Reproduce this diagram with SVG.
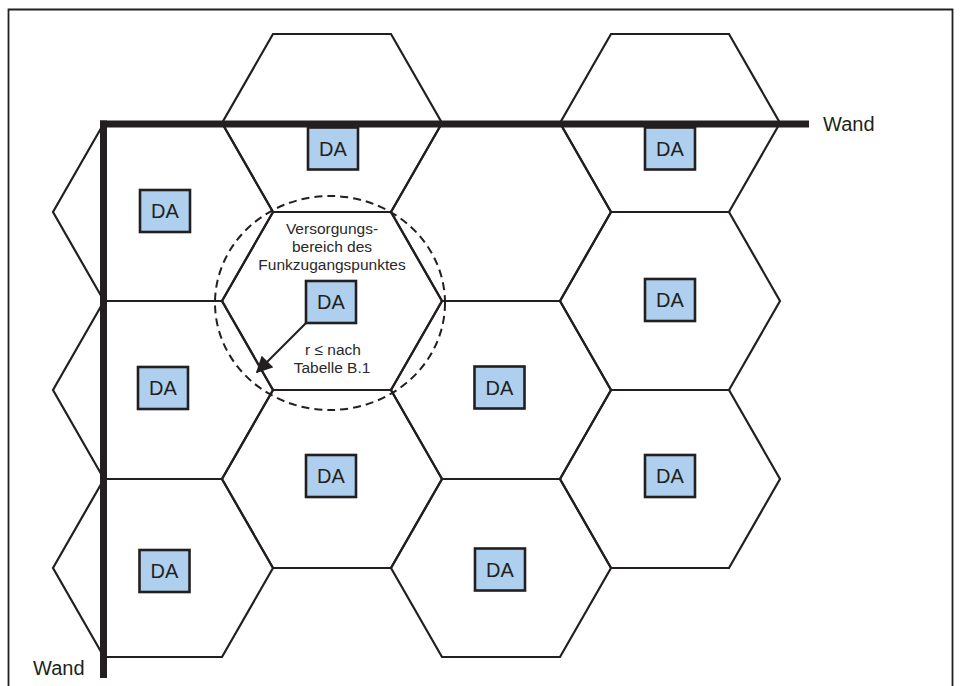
<svg xmlns="http://www.w3.org/2000/svg" width="960" height="686" viewBox="0 0 960 686">
  <style>
    .frame { fill: none; stroke: #231f20; stroke-width: 1.8; }
    .cell { fill: none; stroke: #231f20; stroke-width: 2.2; stroke-linejoin: miter; }
    .wall { fill: #231f20; }
    .da rect { fill: #aed0ee; stroke: #231f20; stroke-width: 2.6; }
    .da text { font-family: "Liberation Sans", Arial, sans-serif; font-size: 20px; fill: #231f20; text-anchor: middle; }
    .lbl { font-family: "Liberation Sans", Arial, sans-serif; font-size: 20px; fill: #231f20; }
    .note { font-family: "Liberation Sans", Arial, sans-serif; font-size: 15.5px; fill: #2b2829; text-anchor: middle; }
    .range { fill: none; stroke: #231f20; stroke-width: 2; stroke-dasharray: 8 5; }
    .conn { fill: none; stroke: #231f20; stroke-width: 2.2; }
  </style>
  <defs>
    <marker id="arrowhead" viewBox="0 0 10 10" refX="9" refY="5" markerWidth="7.5" markerHeight="7.5" markerUnits="strokeWidth" orient="auto">
      <path d="M0,0 L10,5 L0,10 Z" fill="#231f20"/>
    </marker>
  </defs>

  <rect width="960" height="686" fill="#ffffff"/>

  <!-- outer frame, open at the bottom -->
  <path class="frame" d="M8.5,686 V9.5 H952.5 V686"/>

  <!-- hexagonal coverage cells -->
  <g id="cells">
    <polygon id="cell-c1r1" class="cell" points="104,123 222,123 273,212 222,301 104,301 53,212"/>
    <polygon id="cell-c1r2" class="cell" points="104,301 222,301 273,390 222,479 104,479 53,390"/>
    <polygon id="cell-c1r3" class="cell" points="104,479 222,479 273,568 222,657 104,657 53,568"/>
    <polygon id="cell-c2r0" class="cell" points="273,34 391,34 442,123 391,212 273,212 222,123"/>
    <polygon id="cell-c2r1" class="cell" points="273,212 391,212 442,301 391,390 273,390 222,301"/>
    <polygon id="cell-c2r2" class="cell" points="273,390 391,390 442,479 391,568 273,568 222,479"/>
    <polygon id="cell-c3r0" class="cell" points="442,123 560,123 611,212 560,301 442,301 391,212"/>
    <polygon id="cell-c3r1" class="cell" points="442,301 560,301 611,390 560,479 442,479 391,390"/>
    <polygon id="cell-c3r2" class="cell" points="442,479 560,479 611,568 560,657 442,657 391,568"/>
    <polygon id="cell-c4r0" class="cell" points="611,34 729,34 780,123 729,212 611,212 560,123"/>
    <polygon id="cell-c4r1" class="cell" points="611,212 729,212 780,301 729,390 611,390 560,301"/>
    <polygon id="cell-c4r2" class="cell" points="611,390 729,390 780,479 729,568 611,568 560,479"/>
  </g>

  <!-- coverage range of the access point -->
  <ellipse id="coverage" class="range" cx="330" cy="303" rx="115" ry="107"/>

  <!-- walls -->
  <g id="walls">
    <rect class="wall" x="100" y="120.5" width="709" height="7"/>
    <rect class="wall" x="100" y="120.5" width="7" height="557.5"/>
    <text class="lbl" x="823" y="131">Wand</text>
    <text class="lbl" x="33" y="675">Wand</text>
  </g>

  <!-- access points -->
  <g id="da-c1r1" class="da"><rect x="140" y="190" width="50" height="42"/><text x="165" y="218">DA</text></g>
  <g id="da-c1r2" class="da"><rect x="138" y="367" width="50" height="42"/><text x="163" y="395">DA</text></g>
  <g id="da-c1r3" class="da"><rect x="139.5" y="550" width="50" height="42"/><text x="164.5" y="578">DA</text></g>
  <g id="da-c2r0" class="da"><rect x="308" y="127.5" width="50" height="42"/><text x="333" y="155.5">DA</text></g>
  <g id="da-c2r1" class="da"><rect x="306" y="281" width="50" height="42"/><text x="331" y="309">DA</text></g>
  <g id="da-c2r2" class="da"><rect x="306" y="455" width="50" height="42"/><text x="331" y="483">DA</text></g>
  <g id="da-c3r1" class="da"><rect x="474.5" y="366.5" width="50" height="42"/><text x="499.5" y="394.5">DA</text></g>
  <g id="da-c3r2" class="da"><rect x="475" y="548.5" width="50" height="42"/><text x="500" y="576.5">DA</text></g>
  <g id="da-c4r0" class="da"><rect x="645" y="127.5" width="50" height="42"/><text x="670" y="155.5">DA</text></g>
  <g id="da-c4r1" class="da"><rect x="645" y="279" width="50" height="42"/><text x="670" y="307">DA</text></g>
  <g id="da-c4r2" class="da"><rect x="645" y="455" width="50" height="42"/><text x="670" y="483">DA</text></g>

  <!-- labels inside the coverage range -->
  <g id="coverage-label">
    <text class="note" x="332" y="234">Versorgungs-</text>
    <text class="note" x="332" y="252">bereich des</text>
    <text class="note" x="332" y="270">Funkzugangspunktes</text>
  </g>
  <g id="radius-label">
    <text class="note" x="333" y="355">r ≤ nach</text>
    <text class="note" x="332" y="373">Tabelle B.1</text>
  </g>

  <!-- radius connector -->
  <g id="connectors">
    <line class="conn" x1="306" y1="323" x2="257" y2="372" marker-end="url(#arrowhead)"/>
  </g>
</svg>
